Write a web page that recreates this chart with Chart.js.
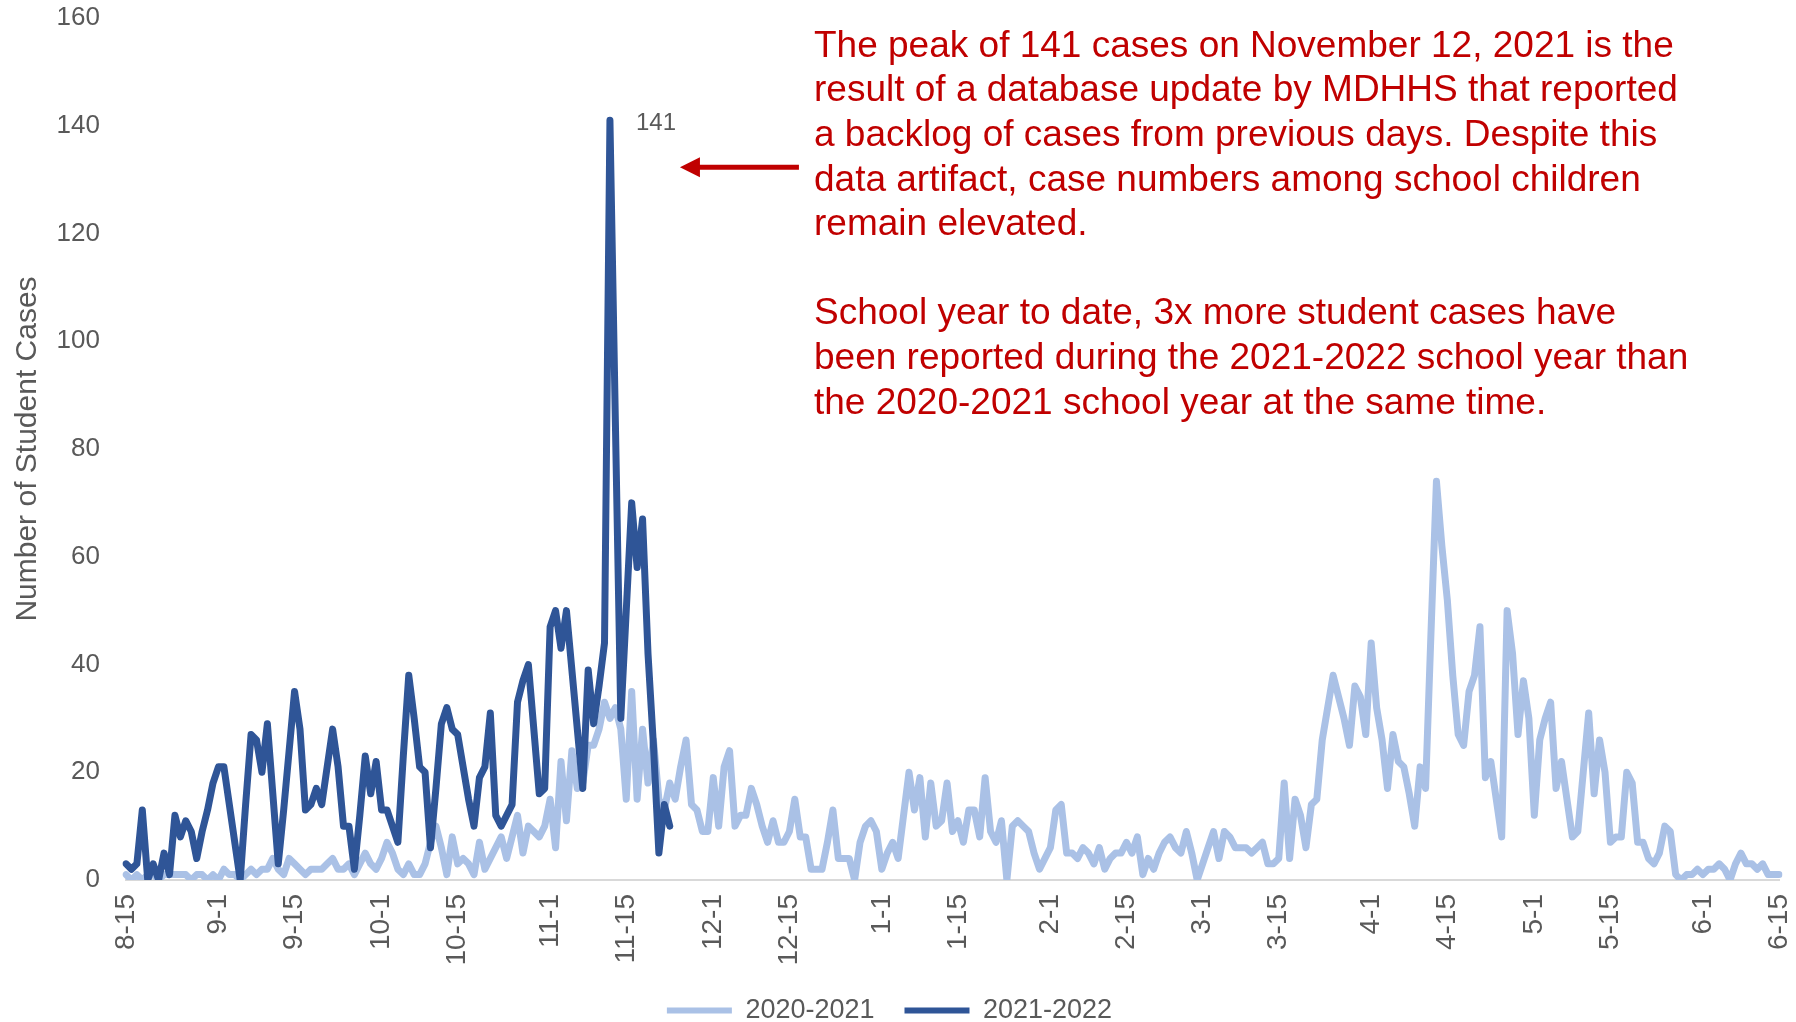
<!DOCTYPE html>
<html>
<head>
<meta charset="utf-8">
<script src="https://cdn.jsdelivr.net/npm/chart.js@4.4.1/dist/chart.umd.min.js"></script>
<style>
  html, body { margin: 0; padding: 0; background: #fff; }
</style>
</head>
<body>
<canvas id="casesChart" width="1796" height="1022"></canvas>
<script>
// school-year axis runs 8-15 .. 6-15, one category per day
const seasonNames = ['2020-2021', '2021-2022'];
const monthNums = [8, 9, 10, 11, 12, 1, 2, 3, 4, 5, 6];
const monthLengths = [31, 30, 31, 30, 31, 31, 28, 31, 30, 31, 30];
const labelledDays = [1, 15];

// daily student cases, 2020-2021 school year (305 days)
const cases2020 = [
  1,0,1,0,1,1,0,1,1,1,
  1,1,0,1,1,0,1,0,2,1,
  1,0,1,2,1,2,2,4,2,1,
  4,3,2,1,2,2,2,3,4,2,
  2,3,1,3,5,3,2,4,7,5,
  2,1,3,1,1,3,7,10,6,1,
  8,3,4,3,1,7,2,4,6,8,
  4,8,12,5,10,9,8,10,15,6,
  22,11,24,17,18,25,25,28,33,30,
  32,28,15,35,15,28,18,26,15,13,
  18,15,21,26,14,13,9,9,19,10,
  21,24,10,12,12,17,14,10,7,11,
  7,7,9,15,8,8,2,2,2,7,
  13,4,4,4,0,7,10,11,9,2,
  5,7,4,12,20,13,19,8,18,10,
  11,18,9,11,7,13,13,8,19,9,
  7,11,0,10,11,10,9,5,2,4,
  6,13,14,5,5,4,6,5,3,6,
  2,4,5,5,7,5,8,1,4,2,
  5,7,8,6,5,9,5,0,3,6,
  9,4,9,8,6,6,6,5,6,7,
  3,3,4,18,4,15,12,6,14,15,
  26,32,38,34,30,25,36,34,27,44,
  32,26,17,27,22,21,16,10,21,17,
  46,74,62,52,38,27,25,35,38,47,
  19,22,15,8,50,42,27,37,30,12,
  26,30,33,17,22,15,8,9,20,31,
  16,26,20,7,8,8,20,18,7,7,
  4,3,5,10,9,1,0,1,1,2,
  1,2,2,3,2,0,3,5,3,3,
  2,3,1,1,1
];

// daily student cases, 2021-2022 school year to date
const cases2021 = [
  3,2,3,13,0,3,0,5,1,12,
  8,11,9,4,9,13,18,21,21,14,
  7,0,14,27,26,20,29,16,3,13,
  24,35,28,13,14,17,14,21,28,21,
  10,10,2,12,23,16,22,13,13,10,
  7,23,38,30,21,20,6,17,29,32,
  28,27,21,15,10,19,21,31,12,10,
  12,14,33,37,40,28,16,17,47,50,
  43,50,39,28,17,39,29,36,44,141,
  85,30,50,70,58,67,42,25,5,14,10
];

const noteLines = [
  'The peak of 141 cases on November 12, 2021 is the',
  'result of a database update by MDHHS that reported',
  'a backlog of cases from previous days. Despite this',
  'data artifact, case numbers among school children',
  'remain elevated.',
  '',
  'School year to date, 3x more student cases have',
  'been reported during the 2021-2022 school year than',
  'the 2020-2021 school year at the same time.'
];

const dayLabels = [];
monthNums.forEach((m, i) => {
  const first = i === 0 ? 15 : 1;
  const last = i === monthNums.length - 1 ? 15 : monthLengths[i];
  for (let d = first; d <= last; d++) {
    dayLabels.push(m + '-' + d);
  }
});

const FONT = '"Liberation Sans", Arial, sans-serif';
const GREY = '#595959';
const LIGHT = '#aac1e6';
const DARK = '#2f5597';

// peak label, arrow and the red note
const notesPlugin = {
  id: 'notes',
  afterDraw(chart) {
    const ctx = chart.ctx;
    const x = chart.scales.x, y = chart.scales.y;
    const peak = Math.max(...cases2021);
    const peakIdx = cases2021.indexOf(peak);
    const px = x.getPixelForValue(peakIdx);
    const py = y.getPixelForValue(peak);

    ctx.save();
    ctx.fillStyle = GREY;
    ctx.font = '24px ' + FONT;
    ctx.textAlign = 'left';
    ctx.textBaseline = 'middle';
    ctx.fillText(String(peak), px + 26, py + 3);

    // arrow pointing back at the peak
    const tipX = px + 70, tipY = py + 47, tailX = px + 189;
    ctx.strokeStyle = '#c00000';
    ctx.fillStyle = '#c00000';
    ctx.lineWidth = 5;
    ctx.beginPath();
    ctx.moveTo(tailX, tipY);
    ctx.lineTo(tipX + 16, tipY);
    ctx.stroke();
    ctx.beginPath();
    ctx.moveTo(tipX, tipY);
    ctx.lineTo(tipX + 20, tipY - 10);
    ctx.lineTo(tipX + 20, tipY + 10);
    ctx.closePath();
    ctx.fill();

    ctx.font = '37px ' + FONT;
    noteLines.forEach((line, i) => {
      ctx.fillText(line, 814, 46.5 + i * 44.6);
    });
    ctx.restore();
  }
};

new Chart(document.getElementById('casesChart'), {
  type: 'line',
  data: {
    labels: dayLabels,
    datasets: [{
      label: seasonNames[0],
      data: cases2020,
      borderColor: LIGHT,
      backgroundColor: LIGHT,
      borderWidth: 7,
      borderJoinStyle: 'round',
      borderCapStyle: 'round',
      pointRadius: 0,
      tension: 0,
      order: 2
    }, {
      label: seasonNames[1],
      data: cases2021,
      borderColor: DARK,
      backgroundColor: DARK,
      borderWidth: 7,
      borderJoinStyle: 'round',
      borderCapStyle: 'round',
      pointRadius: 0,
      tension: 0,
      order: 1
    }]
  },
  options: {
    responsive: false,
    animation: false,
    layout: {
      padding: {top: 18, right: 17, left: 0, bottom: -12}
    },
    plugins: {
      tooltip: {enabled: false},
      legend: {
        position: 'bottom',
        labels: {
          boxWidth: 65,
          boxHeight: 6,
          padding: 30,
          color: GREY,
          font: {family: FONT, size: 27},
          sort: (a, b) => a.datasetIndex - b.datasetIndex,
          generateLabels(chart) {
            const items = Chart.defaults.plugins.legend.labels.generateLabels(chart);
            items.forEach(item => {
              item.fillStyle = item.strokeStyle;
              item.lineWidth = 0;
            });
            return items;
          }
        }
      }
    },
    scales: {
      x: {
        grid: {drawOnChartArea: false, drawTicks: false},
        border: {display: true, color: '#d9d9d9', width: 2},
        afterFit(axis) {
          axis.paddingLeft = 0;
          axis.paddingRight = 0;
          axis.height = axis.chart.height + 12 - 880 - axis.chart.legend.height;
        },
        ticks: {
          autoSkip: false,
          minRotation: 90,
          maxRotation: 90,
          padding: 14,
          color: GREY,
          font: {family: FONT, size: 28},
          callback(value) {
            const lab = this.getLabelForValue(value);
            const day = Number(lab.split('-')[1]);
            return labelledDays.includes(day) ? lab : '';
          }
        }
      },
      y: {
        min: 0,
        max: 160,
        grid: {display: false},
        border: {display: false},
        afterFit(axis) {
          axis.paddingTop = 0;
          axis.paddingBottom = 0;
          axis.width = 126;
        },
        ticks: {
          stepSize: 20,
          padding: 18,
          color: GREY,
          font: {family: FONT, size: 26}
        },
        title: {
          display: true,
          text: 'Number of Student Cases',
          color: GREY,
          font: {family: FONT, size: 30},
          padding: {top: 10, bottom: 0}
        }
      }
    }
  },
  plugins: [notesPlugin]
});
</script>
</body>
</html>
